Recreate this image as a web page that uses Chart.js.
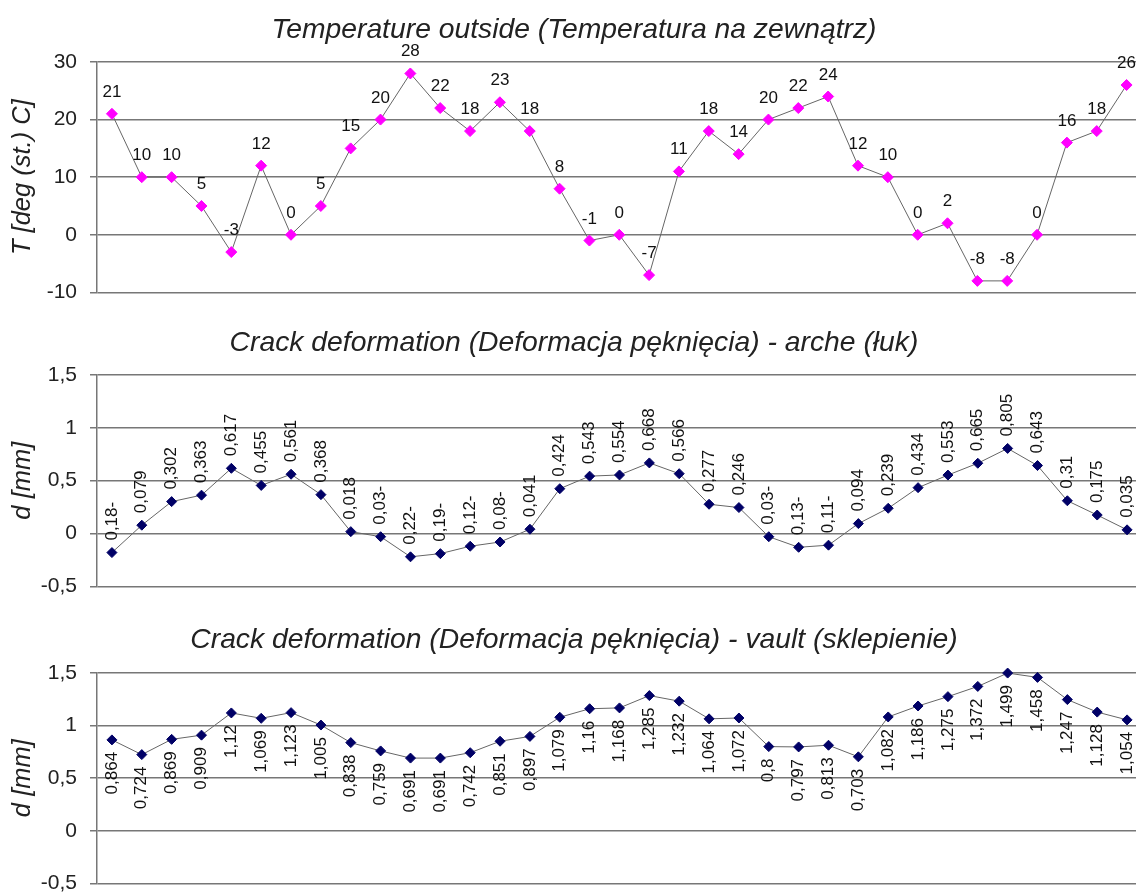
<!DOCTYPE html>
<html>
<head>
<meta charset="utf-8">
<script src="https://cdn.jsdelivr.net/npm/chart.js@4/dist/chart.umd.min.js"></script>
<style>
  html, body { margin: 0; padding: 0; background: #fff; overflow: hidden; }
  .panel { position: absolute; left: 0; }
</style>
</head>
<body>
<canvas id="tempChart" class="panel" style="top:0" width="1148" height="318"></canvas>
<canvas id="archChart" class="panel" style="top:300px" width="1148" height="312"></canvas>
<canvas id="vaultChart" class="panel" style="top:600px" width="1148" height="309"></canvas>
<script>
// measurement days (not shown on the chart)
const days = ["1","2","3","4","5","6","7","8","9","10","11","12","13","14","15","16","17","18",
  "19","20","21","22","23","24","25","26","27","28","29","30","31","32","33","34","35"];

// outside temperature [deg C]
const temps = [21, 10, 10, 5, -3, 12, 0, 5, 15, 20, 28, 22, 18, 23, 18, 8, -1, 0, -7, 11,
  18, 14, 20, 22, 24, 12, 10, 0, 2, -8, -8, 0, 16, 18, 26];

// crack deformation, arch [mm]
const archD = [-0.18, 0.079, 0.302, 0.363, 0.617, 0.455, 0.561, 0.368, 0.018, -0.03, -0.22,
  -0.19, -0.12, -0.08, 0.041, 0.424, 0.543, 0.554, 0.668, 0.566, 0.277, 0.246, -0.03, -0.13,
  -0.11, 0.094, 0.239, 0.434, 0.553, 0.665, 0.805, 0.643, 0.31, 0.175, 0.035];

// crack deformation, vault [mm]
const vaultD = [0.864, 0.724, 0.869, 0.909, 1.12, 1.069, 1.123, 1.005, 0.838, 0.759, 0.691,
  0.691, 0.742, 0.851, 0.897, 1.079, 1.16, 1.168, 1.285, 1.232, 1.064, 1.072, 0.8, 0.797,
  0.813, 0.703, 1.082, 1.186, 1.275, 1.372, 1.499, 1.458, 1.247, 1.128, 1.054];

const tempTicks = [-10, 0, 10, 20, 30];
const dTicks = [-0.5, 0, 0.5, 1, 1.5];

const FONT = '"Liberation Sans", Arial, sans-serif';
const GRID = '#777';

function comma(v) {
  return String(v).replace('.', ',');
}
// the source sheet printed negative values with a trailing minus
function labelMm(v) {
  const s = comma(Math.abs(v));
  return v < 0 ? s + '-' : s;
}

// value labels next to each marker
const valueLabels = {
  id: 'valueLabels',
  afterDatasetsDraw(chart, args, opts) {
    const ctx = chart.ctx;
    const data = chart.data.datasets[0].data;
    ctx.save();
    ctx.font = '17px ' + FONT;
    ctx.fillStyle = '#111';
    chart.getDatasetMeta(0).data.forEach((pt, i) => {
      const txt = opts.format(data[i]);
      if (opts.mode === 'above') {
        ctx.textAlign = 'center';
        ctx.textBaseline = 'alphabetic';
        ctx.fillText(txt, pt.x, pt.y - 17);
      } else {
        ctx.save();
        ctx.translate(pt.x, pt.y + (opts.mode === 'up' ? -12 : 12));
        ctx.rotate(-Math.PI / 2);
        ctx.textAlign = opts.mode === 'up' ? 'left' : 'right';
        ctx.textBaseline = 'middle';
        ctx.fillText(txt, 0, 0);
        ctx.restore();
      }
    });
    ctx.restore();
  }
};

function makeChart(id, cfg) {
  return new Chart(document.getElementById(id), {
    type: 'line',
    data: {
      labels: days,
      datasets: [{
        data: cfg.values,
        borderColor: '#666',
        borderWidth: 1,
        tension: 0,
        pointStyle: 'rectRot',
        pointRadius: cfg.pointRadius,
        pointBackgroundColor: cfg.pointColor,
        pointBorderColor: cfg.pointColor,
        pointBorderWidth: 1,
        clip: false
      }]
    },
    options: {
      responsive: false,
      animation: false,
      layout: { padding: 0 },
      plugins: {
        legend: { display: false },
        tooltip: { enabled: false },
        title: {
          display: true,
          text: cfg.title,
          color: '#222',
          font: { family: FONT, size: 28.3, style: 'italic', weight: 'normal', lineHeight: 1.2 },
          padding: { top: cfg.titleTop, bottom: cfg.titleBottom }
        },
        valueLabels: { mode: cfg.labelMode, format: cfg.format }
      },
      scales: {
        x: { display: false, offset: true },
        y: {
          min: cfg.ticks[0],
          max: cfg.ticks[cfg.ticks.length - 1],
          afterBuildTicks: (s) => { s.ticks = cfg.ticks.map(v => ({ value: v })); },
          afterFit: (s) => { s.width = 97; },
          grid: { color: GRID, lineWidth: 1.5, tickLength: 7 },
          border: { display: true, color: GRID, width: 1.5 },
          ticks: {
            color: '#222',
            padding: 13,
            font: { family: FONT, size: 21 },
            callback: (v) => comma(v)
          },
          title: {
            display: true,
            text: cfg.yTitle,
            color: '#222',
            font: { family: FONT, size: 25.5, style: 'italic' },
            padding: { top: 8, bottom: 0 }
          }
        }
      }
    },
    plugins: [valueLabels]
  });
}

makeChart('tempChart', {
  values: temps,
  ticks: tempTicks,
  title: 'Temperature outside (Temperatura na zewnątrz)',
  yTitle: 'T [deg (st.) C]',
  pointColor: '#ff00ff',
  pointRadius: 5.5,
  labelMode: 'above',
  format: (v) => String(v),
  titleTop: 13, titleBottom: 15
});

makeChart('archChart', {
  values: archD,
  ticks: dTicks,
  title: 'Crack deformation (Deformacja pęknięcia) - arche (łuk)',
  yTitle: 'd [mm]',
  pointColor: '#000066',
  pointRadius: 5,
  labelMode: 'up',
  format: labelMm,
  titleTop: 26, titleBottom: 15
});

makeChart('vaultChart', {
  values: vaultD,
  ticks: dTicks,
  title: 'Crack deformation (Deformacja pęknięcia) - vault (sklepienie)',
  yTitle: 'd [mm]',
  pointColor: '#000066',
  pointRadius: 5,
  labelMode: 'down',
  format: labelMm,
  titleTop: 23, titleBottom: 16
});
</script>
</body>
</html>
